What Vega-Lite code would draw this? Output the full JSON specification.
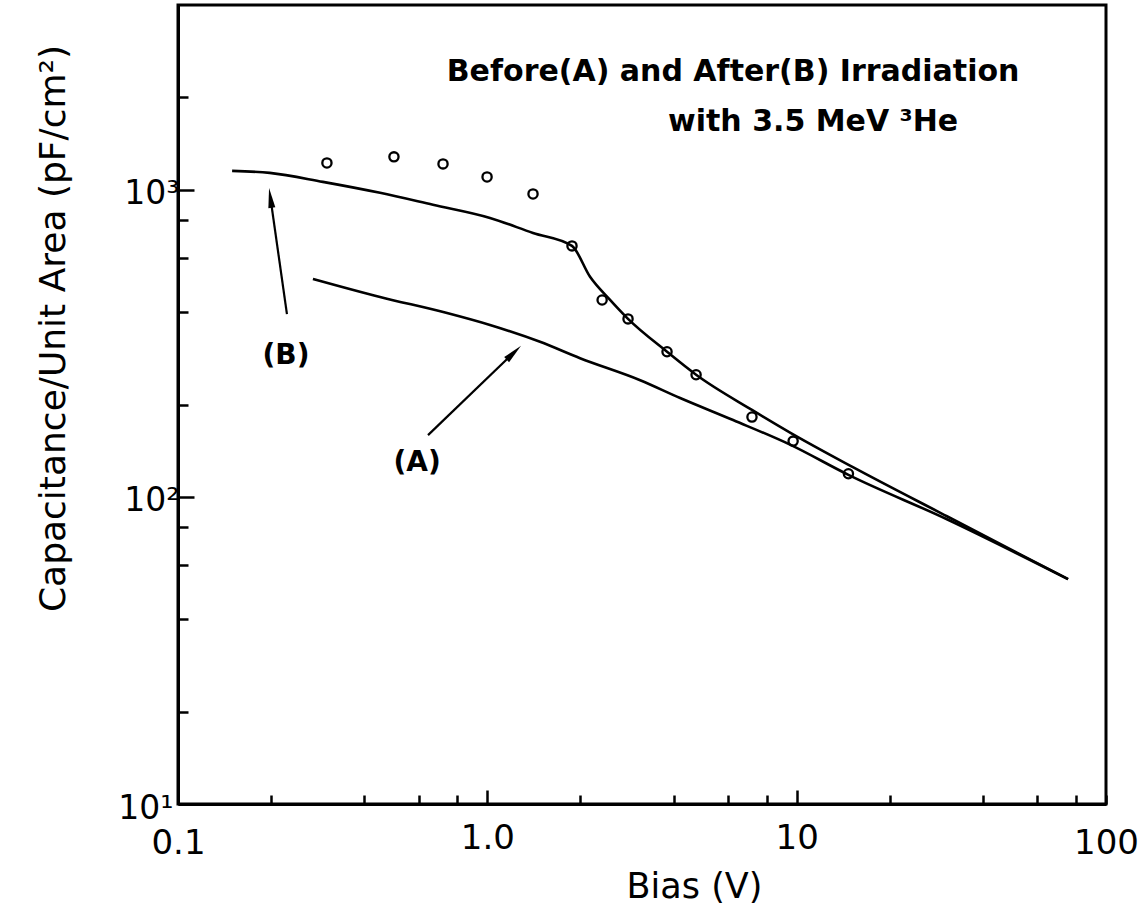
{
  "$schema": "https://vega.github.io/schema/vega-lite/v6.json",
  "width": 928,
  "height": 799,
  "autosize": {"type": "none"},
  "padding": {"left": 178, "top": 5, "right": 39, "bottom": 102},
  "background": "white",
  "config": {
    "view": {"stroke": "black", "strokeWidth": 3},
    "font": "DejaVu Sans"
  },
  "datasets": {
    "curveB": [
      {"bias": 0.1496, "cap": 1153}, {"bias": 0.198, "cap": 1136}, {"bias": 0.294, "cap": 1062},
      {"bias": 0.45, "cap": 978}, {"bias": 0.667, "cap": 894}, {"bias": 1.02, "cap": 810},
      {"bias": 1.405, "cap": 724}, {"bias": 1.878, "cap": 657}, {"bias": 2.148, "cap": 521},
      {"bias": 2.493, "cap": 438}, {"bias": 2.85, "cap": 380}, {"bias": 3.81, "cap": 297},
      {"bias": 4.73, "cap": 250}, {"bias": 7.17, "cap": 192}, {"bias": 9.52, "cap": 162},
      {"bias": 15.2, "cap": 125}, {"bias": 30.6, "cap": 86.5}, {"bias": 75.4, "cap": 54}
    ],
    "curveA": [
      {"bias": 0.273, "cap": 513}, {"bias": 0.45, "cap": 448}, {"bias": 0.741, "cap": 397},
      {"bias": 1.02, "cap": 363}, {"bias": 1.48, "cap": 320}, {"bias": 1.994, "cap": 283},
      {"bias": 3.12, "cap": 240}, {"bias": 4.2, "cap": 210}, {"bias": 6.23, "cap": 178},
      {"bias": 9.52, "cap": 148}, {"bias": 14.7, "cap": 118}, {"bias": 30.6, "cap": 84.6},
      {"bias": 75.4, "cap": 54}
    ],
    "points": [
      {"bias": 0.303, "cap": 1224}, {"bias": 0.499, "cap": 1281}, {"bias": 0.719, "cap": 1215},
      {"bias": 0.998, "cap": 1102}, {"bias": 1.405, "cap": 970}, {"bias": 1.878, "cap": 657},
      {"bias": 2.35, "cap": 438}, {"bias": 2.85, "cap": 380}, {"bias": 3.81, "cap": 297},
      {"bias": 4.73, "cap": 250}, {"bias": 7.17, "cap": 182}, {"bias": 9.74, "cap": 152},
      {"bias": 14.7, "cap": 119}
    ],
    "titles": [
      {"bias": 6.23, "cap": 2423, "label": "Before(A) and After(B) Irradiation"},
      {"bias": 11.3, "cap": 1665, "label": "with 3.5 MeV ³He"}
    ],
    "labels": [
      {"bias": 0.2234, "cap": 288, "label": "(B)"},
      {"bias": 0.593, "cap": 129, "label": "(A)"}
    ],
    "arrows": [
      {"arrow": "B", "bias": 0.225, "cap": 394, "bias2": 0.199, "cap2": 942},
      {"arrow": "A", "bias": 0.643, "cap": 159, "bias2": 1.218, "cap2": 295}
    ],
    "heads": [
      {"arrow": "B", "bias": 0.199, "cap": 942},
      {"arrow": "A", "bias": 1.218, "cap": 295}
    ]
  },
  "encoding": {
    "x": {
      "field": "bias",
      "type": "quantitative",
      "scale": {"type": "log", "domain": [0.1, 100]},
      "axis": {
        "title": "Bias (V)",
        "values": [0.1, 0.2, 0.4, 0.6, 0.8, 1, 2, 4, 6, 8, 10, 20, 40, 60, 80, 100],
        "labelExpr": "datum.value == 0.1 ? '0.1' : datum.value == 1 ? '1.0' : datum.value == 10 ? '10' : datum.value == 100 ? '100' : ''",
        "labelFlush": false,
        "labelOverlap": false,
        "labelFont": "DejaVu Sans",
        "labelFontSize": 34,
        "labelColor": "black",
        "labelPadding": 31,
        "tickSize": {"condition": {"test": "datum.value == 1 || datum.value == 10", "value": -14}, "value": -9},
        "tickColor": "black",
        "tickWidth": 2.5,
        "domainColor": "black",
        "domainWidth": 3,
        "grid": false,
        "titleFont": "DejaVu Sans",
        "titleFontSize": 35,
        "titleFontWeight": "normal",
        "titleColor": "black",
        "titleX": 516,
        "titleY": 93,
        "titleAlign": "center",
        "titleBaseline": "alphabetic"
      }
    },
    "y": {
      "field": "cap",
      "type": "quantitative",
      "scale": {"type": "log", "domain": [10, 4000]},
      "axis": {
        "title": "Capacitance/Unit Area (pF/cm²)",
        "values": [10, 20, 40, 60, 80, 100, 200, 400, 600, 800, 1000, 2000],
        "labelExpr": "datum.value == 10 ? '10¹' : datum.value == 100 ? '10²' : datum.value == 1000 ? '10³' : ''",
        "labelFlush": false,
        "labelOverlap": false,
        "labelFont": "DejaVu Sans",
        "labelFontSize": 33,
        "labelColor": "black",
        "labelPadding": 15,
        "labelOffset": 4,
        "tickSize": {"condition": {"test": "datum.value == 100 || datum.value == 1000", "value": -16}, "value": -10},
        "tickColor": "black",
        "tickWidth": 2.5,
        "domainColor": "black",
        "domainWidth": 3,
        "grid": false,
        "titleFont": "DejaVu Sans",
        "titleFontSize": 36,
        "titleFontWeight": "normal",
        "titleColor": "black",
        "titleAngle": 270,
        "titleX": -114,
        "titleY": 323,
        "titleAlign": "center",
        "titleBaseline": "alphabetic"
      }
    }
  },
  "layer": [
    {
      "data": {"name": "curveB"},
      "mark": {"type": "line", "color": "black", "strokeWidth": 2.6, "interpolate": "monotone"}
    },
    {
      "data": {"name": "curveA"},
      "mark": {"type": "line", "color": "black", "strokeWidth": 2.6, "interpolate": "monotone"}
    },
    {
      "data": {"name": "points"},
      "mark": {"type": "point", "shape": "circle", "size": 85, "filled": false, "color": "black", "strokeWidth": 2.3, "opacity": 1}
    },
    {
      "data": {"name": "arrows"},
      "mark": {"type": "rule", "color": "black", "strokeWidth": 2.2},
      "encoding": {
        "x2": {"field": "bias2"},
        "y2": {"field": "cap2"}
      }
    },
    {
      "data": {"name": "heads"},
      "transform": [{"filter": "datum.arrow == 'B'"}],
      "mark": {"type": "point", "shape": "M0,-1L0.35,1L-0.35,1Z", "size": 400, "filled": true, "color": "black", "opacity": 1, "angle": 352}
    },
    {
      "data": {"name": "heads"},
      "transform": [{"filter": "datum.arrow == 'A'"}],
      "mark": {"type": "point", "shape": "M0,-1L0.35,1L-0.35,1Z", "size": 400, "filled": true, "color": "black", "opacity": 1, "angle": 46}
    },
    {
      "data": {"name": "titles"},
      "mark": {"type": "text", "font": "DejaVu Sans", "fontSize": 30, "fontWeight": "bold", "color": "black", "align": "center", "baseline": "middle"},
      "encoding": {
        "text": {"field": "label", "type": "nominal"}
      }
    },
    {
      "data": {"name": "labels"},
      "mark": {"type": "text", "font": "DejaVu Sans", "fontSize": 28, "fontWeight": "bold", "color": "black", "align": "center", "baseline": "middle"},
      "encoding": {
        "text": {"field": "label", "type": "nominal"}
      }
    }
  ]
}
